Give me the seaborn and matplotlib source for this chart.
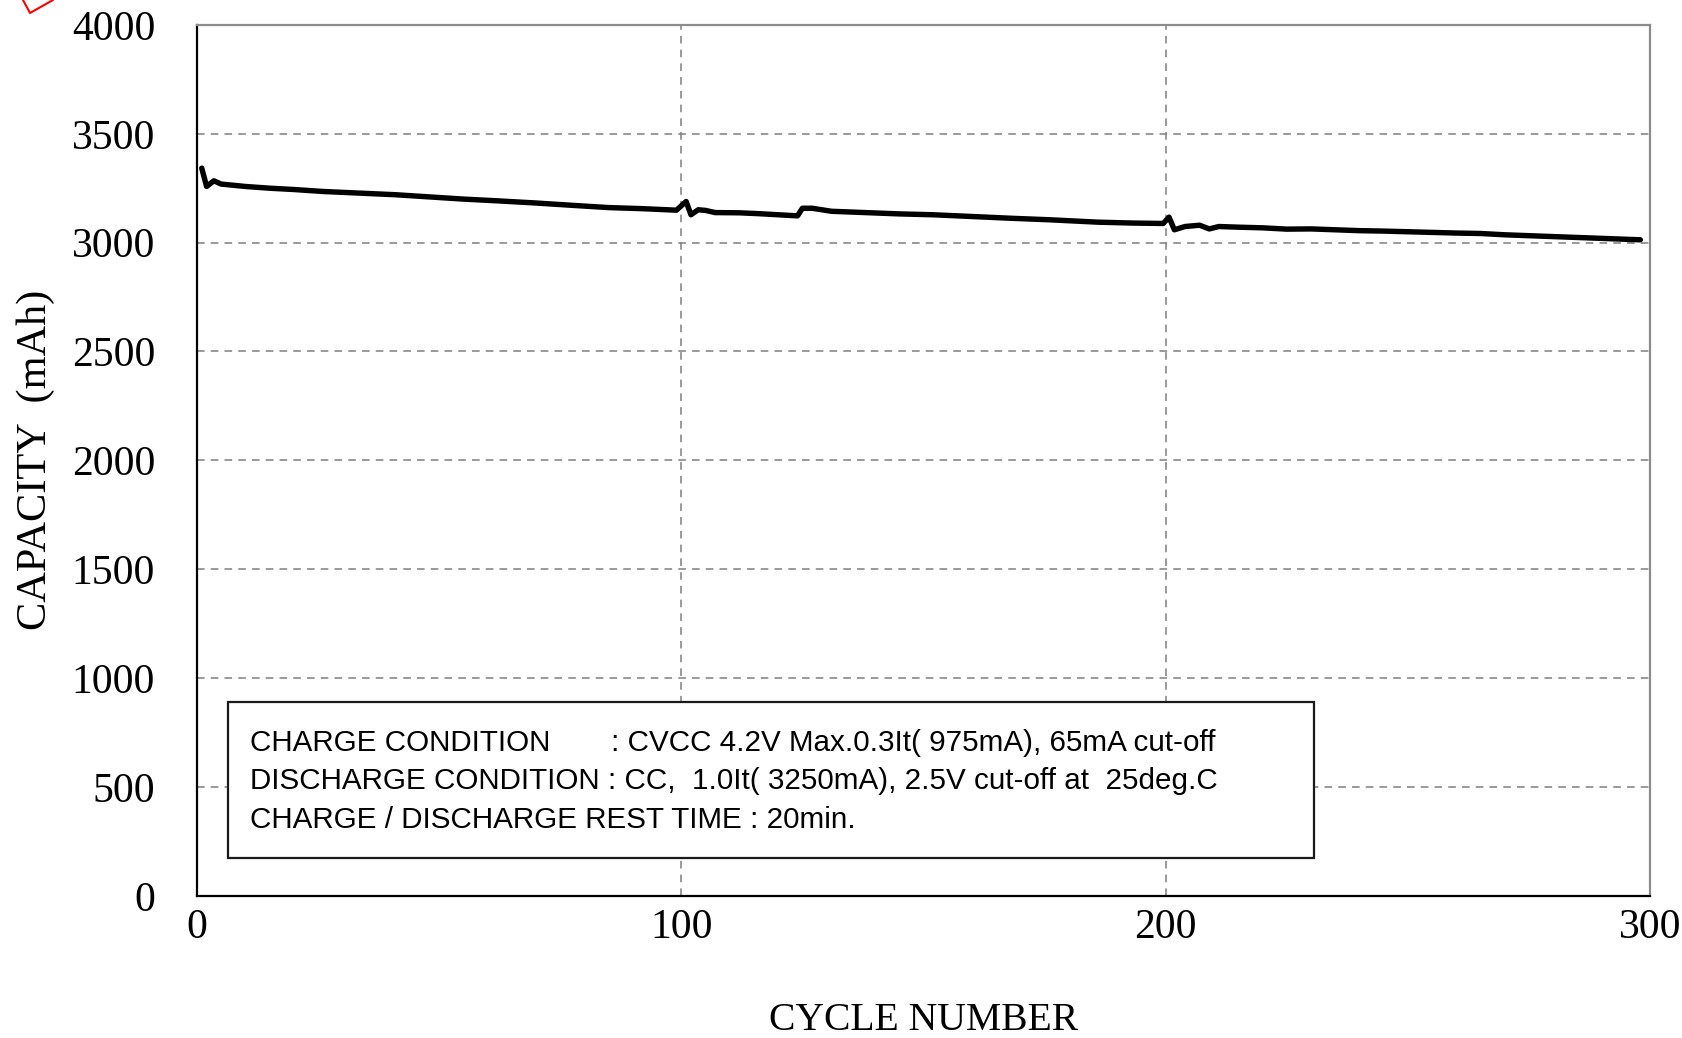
import matplotlib
matplotlib.use("Agg")
import matplotlib.pyplot as plt
import seaborn as sns
import pandas as pd
from matplotlib.patches import Rectangle
from matplotlib.lines import Line2D

# Data
cycles = [1, 2, 3.5, 5, 10, 15, 20, 26, 33, 41, 48, 55, 62, 70, 77, 85, 92, 99,
          101, 102, 103.5, 105, 107, 112, 116, 120, 124, 125, 127, 131, 138, 145,
          152, 160, 168, 176, 186, 193, 199.5, 200.7, 201.8, 204, 207, 209, 211,
          215, 220, 225, 230, 235, 240, 245, 250, 255, 260, 265, 270, 298]
capacity = [3342, 3258, 3284, 3269, 3258, 3250, 3244, 3235, 3228, 3220, 3210, 3200,
            3192, 3182, 3172, 3161, 3156, 3149, 3189, 3128, 3151, 3148, 3138, 3137,
            3133, 3128, 3123, 3158, 3158, 3144, 3138, 3132, 3128, 3120, 3112, 3105,
            3094, 3090, 3088, 3117, 3059, 3074, 3080, 3063, 3074, 3071, 3068, 3062,
            3063, 3059, 3055, 3053, 3050, 3047, 3044, 3042, 3036, 3013]

x_ticks = [0, 100, 200, 300]
y_ticks = [0, 500, 1000, 1500, 2000, 2500, 3000, 3500, 4000]

conditions = [
    ("CHARGE CONDITION", ": CVCC 4.2V Max.0.3It( 975mA), 65mA cut-off"),
    ("DISCHARGE CONDITION : CC,  1.0It( 3250mA), 2.5V cut-off at  25deg.C", ""),
    ("CHARGE / DISCHARGE REST TIME : 20min.", ""),
]

df = pd.DataFrame({"cycle": cycles, "capacity": capacity})

sns.set_theme(style="white")
plt.rcParams["font.family"] = ["Liberation Serif", "DejaVu Serif"]
plt.rcParams["text.color"] = "black"
plt.rcParams["axes.labelcolor"] = "black"

fig = plt.figure(figsize=(16.83, 10.38), dpi=100)
ax = fig.add_axes([0.117, 0.137, 0.8634, 0.839])

sns.lineplot(data=df, x="cycle", y="capacity", color="black", linewidth=3.9,
             ax=ax, zorder=4)

ax.set_xlim(0, 300)
ax.set_ylim(0, 4000)
ax.set_xticks(x_ticks)
ax.set_yticks(y_ticks)
ax.tick_params(axis="both", labelsize=30, length=0, colors="black")
ax.tick_params(axis="y", pad=30)
ax.tick_params(axis="x", pad=9)

ax.grid(True, color="#7f7f7f", linestyle=(0, (5, 4)), linewidth=1.1)
ax.set_axisbelow(True)

for side in ["left", "bottom"]:
    ax.spines[side].set_color("black")
    ax.spines[side].set_linewidth(1.6)
for side in ["top", "right"]:
    ax.spines[side].set_color("#8c8c8c")
    ax.spines[side].set_linewidth(1.6)

ax.set_xlabel("CYCLE NUMBER", fontsize=28.5, labelpad=40, color="black")
ax.set_ylabel("CAPACITY  (mAh)", fontsize=30.5, labelpad=12, color="black")

# condition box
box = Rectangle((0.0213, 0.0436), 0.7477, 0.179, transform=ax.transAxes,
                facecolor="white", edgecolor="#1a1a1a", linewidth=1.6, zorder=5)
ax.add_patch(box)
line_y = [0.1760, 0.1316, 0.0872]
for (left, right), yy in zip(conditions, line_y):
    ax.text(0.0365, yy, left, transform=ax.transAxes, fontsize=21.3,
            family="Liberation Sans", va="center", ha="left", zorder=6)
    if right:
        ax.text(0.2847, yy, right, transform=ax.transAxes, fontsize=21.3,
                family="Liberation Sans", va="center", ha="left", zorder=6)

# red mark cut off in the top-left corner
fig.add_artist(Line2D([23 / 1683, 30 / 1683, 53 / 1683],
                      [1.0, 1 - 13 / 1038, 1.0], color="red", linewidth=1.5,
                      transform=fig.transFigure))

fig.savefig("out.png", dpi=100)
